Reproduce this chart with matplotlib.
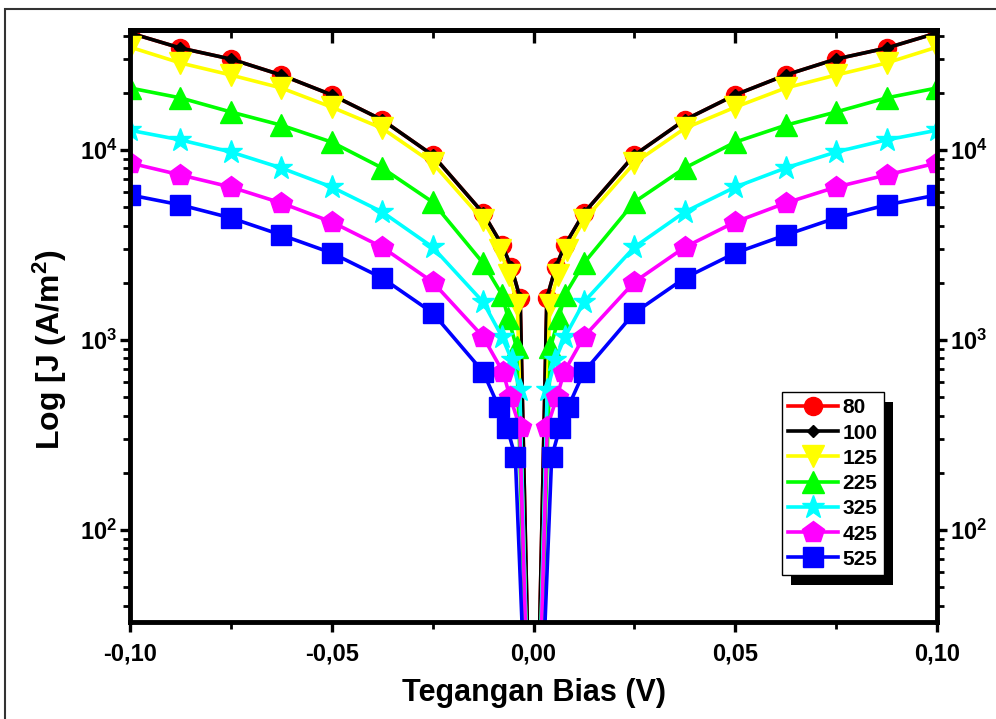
import math

import matplotlib
matplotlib.use("Agg")
import matplotlib.pyplot as plt
from matplotlib.patches import Rectangle
from matplotlib.ticker import FuncFormatter, LogLocator, MultipleLocator

plt.rcParams['font.family'] = ['Liberation Sans', 'DejaVu Sans']
plt.rcParams['font.weight'] = 'bold'
plt.rcParams['mathtext.fontset'] = 'custom'
plt.rcParams['mathtext.rm'] = 'Liberation Sans:bold'
plt.rcParams['mathtext.bf'] = 'Liberation Sans:bold'
plt.rcParams['mathtext.it'] = 'Liberation Sans:bold'
plt.rcParams['mathtext.default'] = 'bf'

# bias voltage (V): outer grid shared by all series
v_outer = [-0.1, -0.0875, -0.075, -0.0625, -0.05, -0.0375, -0.025, -0.0125]
# the three innermost points (each side) differ a little between series
v_inner_80 = [-0.0078, -0.0055, -0.0033]
v_inner_100 = [-0.0078, -0.0055, -0.0033]
v_inner_125 = [-0.0083, -0.006, -0.004]
v_inner_225 = [-0.0078, -0.0063, -0.0042]
v_inner_325 = [-0.0078, -0.0054, -0.0034]
v_inner_425 = [-0.0076, -0.0058, -0.0034]
v_inner_525 = [-0.0086, -0.0065, -0.0045]

# current density J (A/m^2), left half (V<0) then V=0 then right half (V>0)
j_80 = [41300, 34400, 30100, 24800, 19500, 14400, 9400, 4660, 3160, 2420, 1660,
        1.0,
        1660, 2420, 3160, 4660, 9400, 14400, 19500, 24800, 30100, 34400, 41300]
j_100 = [41300, 34400, 30100, 24800, 19500, 14400, 9400, 4660, 3160, 2420, 1660,
         1.0,
         1660, 2420, 3160, 4660, 9400, 14400, 19500, 24800, 30100, 34400, 41300]
j_125 = [34800, 28700, 24800, 21200, 16800, 13000, 8540, 4280, 2980, 2200, 1530,
         1.0,
         1530, 2200, 2980, 4280, 8540, 13000, 16800, 21200, 24800, 28700, 34800]
j_225 = [21200, 18800, 15850, 13500, 11000, 8040, 5320, 2540, 1730, 1310, 918,
         1.0,
         918, 1310, 1730, 2540, 5320, 8040, 11000, 13500, 15850, 18800, 21200]
j_325 = [12700, 11300, 9760, 8040, 6380, 4720, 3080, 1585, 1040, 785, 545,
         1.0,
         545, 785, 1040, 1585, 3080, 4720, 6380, 8040, 9760, 11300, 12700]
j_425 = [8540, 7390, 6380, 5260, 4180, 3080, 2020, 1040, 680, 501, 348,
         1.0,
         348, 501, 680, 1040, 2020, 3080, 4180, 5260, 6380, 7390, 8540]
j_525 = [5800, 5140, 4390, 3570, 2870, 2120, 1390, 680, 444, 344, 242,
         1.0,
         242, 344, 444, 680, 1390, 2120, 2870, 3570, 4390, 5140, 5800]

labels = ['80', '100', '125', '225', '325', '425', '525']
colors = ['#ff0000', '#000000', '#ffff00', '#00ff00', '#00ffff', '#ff00ff', '#0000ff']
markers = ['o', 'D', 'v', '^', '*', 'p', 's']
msizes = [13, 6, 16, 16, 17, 16, 14]

series_j = [j_80, j_100, j_125, j_225, j_325, j_425, j_525]
series_vin = [v_inner_80, v_inner_100, v_inner_125, v_inner_225,
              v_inner_325, v_inner_425, v_inner_525]


def full_v(v_in):
    left = v_outer + v_in
    right = [-v for v in reversed(left)]
    return left + [0.0] + right


fig = plt.figure(figsize=(9.96, 7.19), dpi=100)
ax = fig.add_axes([130 / 996, 1 - 622 / 719, 807 / 996, 592 / 719])

for j, v_in, lab, c, m, ms in zip(series_j, series_vin, labels, colors, markers, msizes):
    ax.plot(full_v(v_in), j, color=c, marker=m, markersize=ms,
            markerfacecolor=c, markeredgecolor=c, linewidth=2.6, label=lab)

ax.set_yscale('log')
ax.set_xlim(-0.1, 0.1)
ax.set_ylim(32.8, 42800)

ax.xaxis.set_major_locator(MultipleLocator(0.05))
ax.xaxis.set_minor_locator(MultipleLocator(0.025))
ax.xaxis.set_major_formatter(
    FuncFormatter(lambda v, p: ('%.2f' % (0 if abs(v) < 1e-9 else v)).replace('.', ',')))
ax.yaxis.set_major_locator(LogLocator(base=10))
ax.yaxis.set_minor_locator(LogLocator(base=10, subs=range(2, 10)))
ax.yaxis.set_major_formatter(
    FuncFormatter(lambda v, p: r'$\mathbf{10^{%d}}$' % round(math.log10(v))))

ax.tick_params(axis='both', which='major', direction='out', length=7, width=2.4,
               labelsize=17)
ax.tick_params(axis='x', which='major', pad=8)
ax.tick_params(axis='y', which='major', pad=2)
ax.tick_params(axis='both', which='minor', direction='out', length=5, width=2)
ax.tick_params(axis='y', which='both', right=True, labelright=True)

# top ticks point inwards
top = ax.secondary_xaxis('top')
top.xaxis.set_major_locator(MultipleLocator(0.05))
top.xaxis.set_minor_locator(MultipleLocator(0.025))
top.tick_params(which='major', direction='in', length=9, width=2.4, labeltop=False)
top.tick_params(which='minor', direction='in', length=6, width=2)
top.spines['top'].set_linewidth(3.5)

for s in ax.spines.values():
    s.set_linewidth(3.5)

ax.set_xlabel('Tegangan Bias (V)', fontsize=22, fontweight='bold')
ax.xaxis.set_label_coords(0.5, -0.094)
ax.set_ylabel('Log [J (A/m$^2$)', fontsize=23, fontweight='bold')
ax.yaxis.set_label_coords(-0.076, 0.46)

leg = ax.legend(loc='upper left', bbox_to_anchor=(0.808, 0.3885), borderaxespad=0,
                fancybox=False, edgecolor='black', framealpha=1,
                prop={'size': 15, 'weight': 'bold'}, handlelength=2.4,
                labelspacing=0.3, handletextpad=0.2, borderpad=0.3)
leg.get_frame().set_linewidth(1.0)

# black drop shadow behind the legend
fig.canvas.draw()
bb = leg.get_window_extent()
W, H = fig.bbox.width, fig.bbox.height
shadow = Rectangle(((bb.x0 + 9) / W, (bb.y0 - 10) / H), bb.width / W, bb.height / H,
                   transform=fig.transFigure, facecolor='black', edgecolor='none',
                   zorder=4.5, clip_on=False)
ax.add_artist(shadow)

# outer frame around the figure (cut by the right and bottom image edges)
frame = Rectangle((5 / 996, -0.1), 1.1, 0.1 + 1 - 9 / 719, transform=fig.transFigure,
                  fill=False, edgecolor='#333333', linewidth=1.5, clip_on=False)
fig.add_artist(frame)

fig.savefig('out.png', dpi=100)
